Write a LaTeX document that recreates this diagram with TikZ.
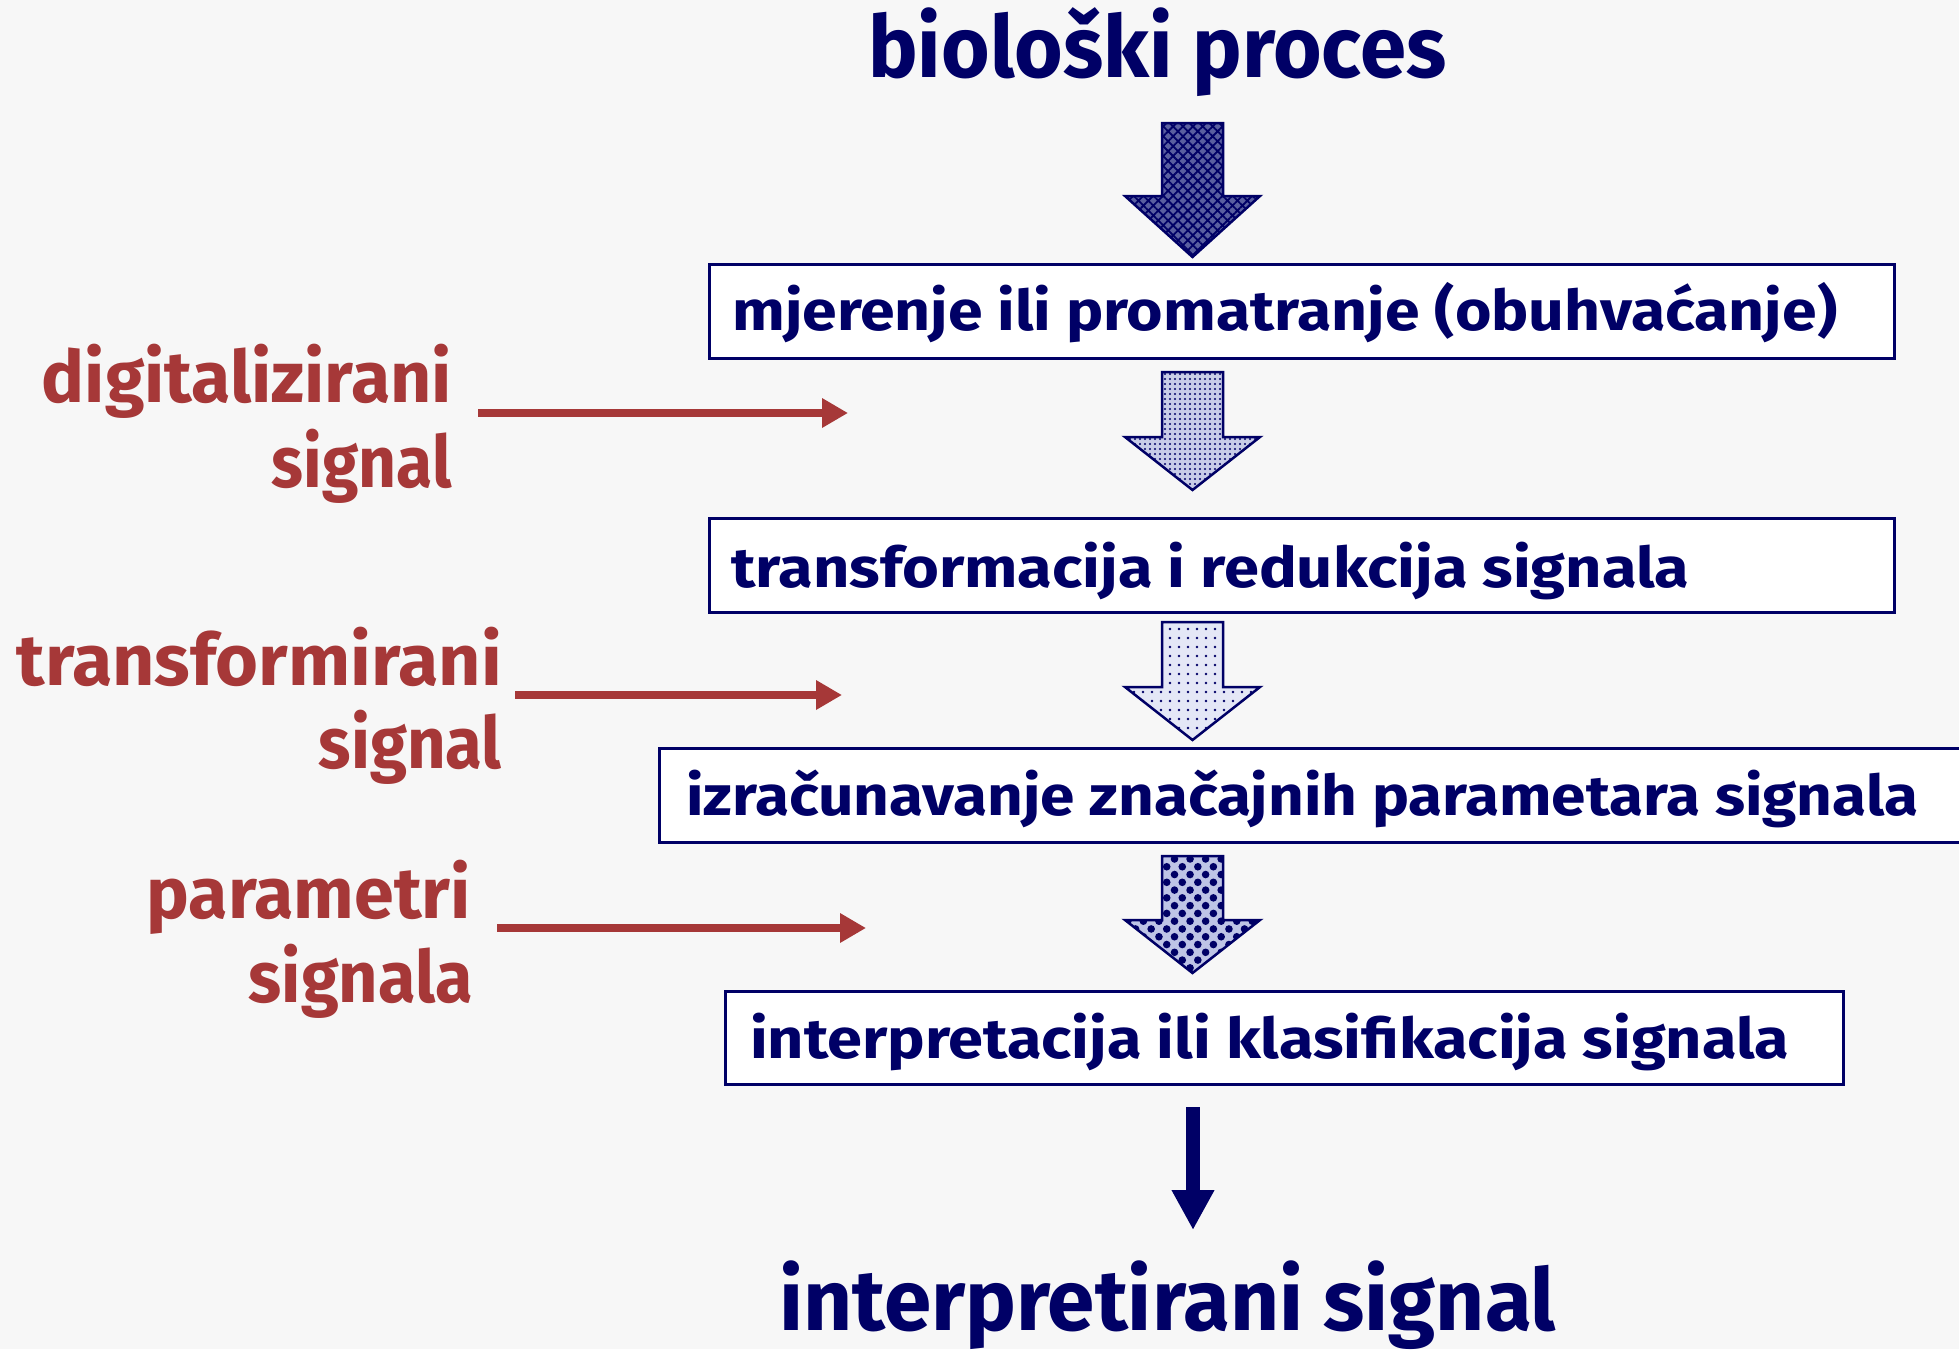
\documentclass[tikz,border=0pt]{standalone}
\usepackage{fontspec}
\setmainfont{Fira Sans}
\usepackage{graphicx}
\usetikzlibrary{arrows.meta,patterns.meta}
\definecolor{dnavy}{RGB}{0,0,102}
\definecolor{brick}{RGB}{166,56,56}
\definecolor{bgc}{RGB}{247,247,247}
\definecolor{aone}{RGB}{90,95,160}
\definecolor{atwo}{RGB}{200,204,232}
\definecolor{athree}{RGB}{228,231,246}
\definecolor{afour}{RGB}{190,196,230}
\newcommand\fitw[2]{\resizebox{#1pt}{\height}{#2}}
\tikzset{
  x=1pt, y=-1pt,
  box/.style={draw=dnavy, line width=3pt, fill=white, anchor=north west, inner sep=0pt},
  boxtext/.style={text=dnavy, font=\bfseries\fontsize{56}{60}\selectfont, anchor=base west, inner sep=0pt},
  bigtext/.style={text=dnavy, font=\bfseries\fontsize{86}{90}\selectfont, anchor=base west, inner sep=0pt},
  redtext/.style={text=brick, font=\bfseries\fontsize{72}{76}\selectfont, anchor=base east, inner sep=0pt},
  redarrow/.style={draw=brick, line width=8pt, -{Triangle[length=26pt,width=28pt]}},
  blockarrow/.style={draw=dnavy, line width=2.5pt, line join=miter},
  navyarrow/.style={draw=dnavy, line width=14pt, -{Triangle[length=40pt,width=40pt]}}
}
\begin{document}
\begin{tikzpicture}
\clip (0,0) rectangle (1959,1349);
\fill[bgc] (0,0) rectangle (1959,1349);

% title
\node[bigtext] (title) at (868,77) {\fitw{578}{biološki proces}};

% block arrow 1
\path[blockarrow, preaction={fill=aone}, pattern={Hatch[distance=7pt, angle=45, line width=1.8pt]}, pattern color=dnavy]
  (1162,123) -- (1223,123) -- (1223,196) -- (1260,196) -- (1192.5,257) -- (1125,196) -- (1162,196) -- cycle;

% box 1
\node[box, minimum width=1185pt, minimum height=94pt] (b1) at (708,263) {};
\node[boxtext] (t1) at (732,330) {\fitw{1105}{mjerenje ili promatranje (obuhvaćanje)}};

% block arrow 2
\path[blockarrow, preaction={fill=atwo}, pattern={Dots[distance=5pt, radius=1.2pt]}, pattern color=dnavy]
  (1162,372) -- (1223,372) -- (1223,437) -- (1260,437) -- (1192.5,490) -- (1125,437) -- (1162,437) -- cycle;

% box 2
\node[box, minimum width=1185pt, minimum height=94pt] (b2) at (708,517) {};
\node[boxtext] (t2) at (731,587) {\fitw{958}{transformacija i redukcija signala}};

% block arrow 3
\path[blockarrow, preaction={fill=athree}, pattern={Dots[distance=9pt, radius=1.4pt]}, pattern color=dnavy]
  (1162,622) -- (1223,622) -- (1223,687) -- (1260,687) -- (1192.5,740) -- (1125,687) -- (1162,687) -- cycle;

% box 3 (runs off the right edge)
\node[box, minimum width=1320pt, minimum height=94pt] (b3) at (658,747) {};
\node[boxtext] (t3) at (686,815) {\fitw{1232}{izračunavanje značajnih parametara signala}};

% block arrow 4
\path[blockarrow, preaction={fill=afour}, pattern={Dots[distance=11pt, radius=3.8pt, angle=45]}, pattern color=dnavy]
  (1162,856) -- (1223,856) -- (1223,920) -- (1260,920) -- (1192.5,973) -- (1125,920) -- (1162,920) -- cycle;

% box 4
\node[box, minimum width=1118pt, minimum height=93pt] (b4) at (724,990) {};
\node[boxtext] (t4) at (750,1058) {\fitw{1039}{interpretacija ili klasifikacija signala}};

% final arrow
\coordinate (fs) at (1193,1107);
\coordinate (fe) at (1193,1230);
\draw[navyarrow] (fs) -- (fe);

% result
\node[bigtext] (res) at (779,1330) {\fitw{777}{interpretirani signal}};

% red labels
\node[redtext] (l1a) at (452,402) {\fitw{410}{digitalizirani}};
\node[redtext] (l1b) at (452,487) {\fitw{180}{signal}};
\node[redtext] (l2a) at (502,685) {\fitw{485}{transformirani}};
\node[redtext] (l2b) at (502,768) {\fitw{183}{signal}};
\node[redtext] (l3a) at (471,918) {\fitw{324}{parametri}};
\node[redtext] (l3b) at (473,1002) {\fitw{224}{signala}};

% red arrows
\coordinate (r1s) at (478,413);
\coordinate (r1e) at (848,413);
\coordinate (r2s) at (515,695);
\coordinate (r2e) at (842,695);
\coordinate (r3s) at (497,928);
\coordinate (r3e) at (866,928);
\draw[redarrow] (r1s) -- (r1e);
\draw[redarrow] (r2s) -- (r2e);
\draw[redarrow] (r3s) -- (r3e);
\end{tikzpicture}
\end{document}
